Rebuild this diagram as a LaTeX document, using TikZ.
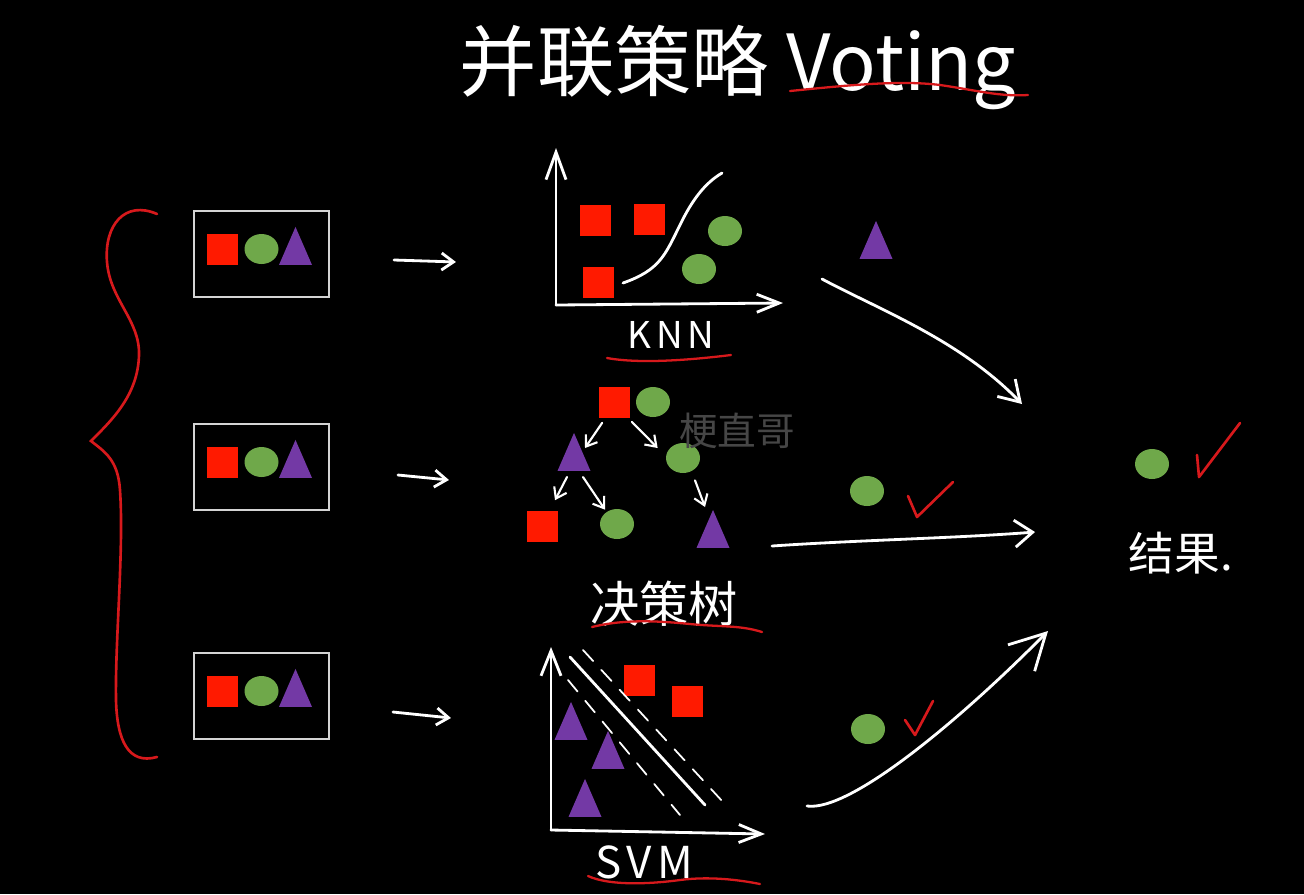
\documentclass[tikz,border=0pt]{standalone}
\usepackage{xcolor}
\usepackage{fontspec}
\usetikzlibrary{shapes.geometric,arrows.meta,calc}
\newfontfamily\cjk{Noto Sans CJK SC}
\newfontfamily\handfont[LetterSpace=12]{Noto Sans CJK SC}
\definecolor{sqred}{HTML}{FF1A00}
\definecolor{dotgreen}{HTML}{6FA84A}
\definecolor{tripurple}{HTML}{7339A5}
\definecolor{inkred}{HTML}{D7191C}
\definecolor{boxgray}{HTML}{D4D4D4}

\tikzset{
  sq/.style={fill=sqred, minimum size=6.2mm, inner sep=0pt},
  dot/.style={ellipse, fill=dotgreen, minimum width=6.8mm, minimum height=6mm, inner sep=0pt},
  tri/.style={isosceles triangle, isosceles triangle stretches, shape border rotate=90,
    fill=tripurple, minimum width=6.6mm, minimum height=7.6mm, inner sep=0pt, anchor=apex},
  samplebox/.style={draw=boxgray, line width=1.1pt, minimum width=27mm, minimum height=17.2mm, inner sep=0pt},
  chalk/.style={white, line width=1.6pt, line cap=round, line join=round},
  axis/.style={chalk, -{Straight Barb[length=4.5mm, width=3.6mm]}},
  rowarrow/.style={chalk, -{Straight Barb[length=2.4mm, width=3.4mm]}},
  treearrow/.style={chalk, line width=1.2pt, -{Straight Barb[length=2mm, width=2.8mm]}},
  inkline/.style={draw=inkred, line width=1.3pt, line cap=round},
  check/.style={inkline, line width=1.5pt, line join=round},
  handtxt/.style={text=white, inner sep=0pt}
}

\begin{document}
\begin{tikzpicture}[x=0.2mm, y=-0.2mm]
\fill[black] (0,0) rectangle (1304,894);
\useasboundingbox (0,0) rectangle (1304,894);

% title
\node[handtxt, anchor=base, font=\cjk\fontsize{44}{50}\selectfont] (title) at (738,90) {并联策略 Voting};
\draw[inkline] (790,91) .. controls (850,85) and (900,80) .. (940,85) .. controls (975,90) and (1000,97) .. (1028,95);

% three sampled sets
\draw[inkline, line width=1.5pt] (157,214) .. controls (125,200) and (104,225) .. (107,262)
  .. controls (110,300) and (140,320) .. (139,355) .. controls (138,395) and (112,420) .. (91,441)
  .. controls (105,452) and (118,460) .. (120,490) .. controls (124,550) and (115,640) .. (116,700)
  .. controls (117,740) and (128,765) .. (157,757);
\foreach \i/\y in {1/254,2/467,3/696} {
  \node[samplebox] (box\i) at (261.5,\y) {};
  \node[sq] (bsq\i) at (222.5,\y-5) {};
  \node[dot] (bdot\i) at (261.5,\y-5) {};
  \node[tri] (btri\i) at (295.5,\y-28) {};
}
\draw[rowarrow] ($(box1.east)+(64,6)$) -- ($(box1.east)+(126,8)$);
\draw[rowarrow] ($(box2.east)+(68,8)$) -- ($(box2.east)+(119,13)$);
\draw[rowarrow] ($(box3.east)+(63,16)$) -- ($(box3.east)+(121,22)$);

% KNN
\coordinate (knn o) at (556,305);
\draw[axis, -{Straight Barb[length=5.5mm, width=4mm]}] (knn o) -- ++(0,-157);
\draw[axis] (knn o) -- ++(227,-2);
\node[sq] (knnsq1) at (595,220) {};
\node[sq] (knnsq2) at (649,219) {};
\node[sq] (knnsq3) at (598,282) {};
\node[dot] (knndot1) at (725,231) {};
\node[dot] (knndot2) at (699,269) {};
\draw[chalk] (623,283) .. controls (660,270) and (665,255) .. (680,225) .. controls (692,200) and (705,183) .. (722,173);
\node[handtxt, font=\handfont\fontsize{21}{24}\selectfont] (knn) at (671,335) {KNN};
\draw[inkline] (607,358) .. controls (640,364) and (690,360) .. (731,355);

% decision tree
\node[sq] (root) at (614,402) {};
\node[dot] (rootdot) at (653,402) {};
\node[tri] (t1) at (574,432) {};
\node[dot] (t2) at (683,458) {};
\node[sq] (leaf1) at (542,526) {};
\node[dot] (leaf2) at (617,524) {};
\node[tri] (leaf3) at (713,509) {};
\draw[treearrow] ($(root.south west)+(4,5)$) -- ($(t1.apex)+(11,16)$);
\draw[treearrow] ($(root.south east)+(2,4)$) -- ($(t2.west)+(-8,-10)$);
\draw[treearrow] ($(t1.apex)+(-7,45)$) -- ($(leaf1.north)+(13,-10)$);
\draw[treearrow] ($(t1.apex)+(9,45)$) -- ($(leaf2.north)+(-12,1)$);
\draw[treearrow] ($(t2.south)+(12,7)$) -- ($(leaf3.apex)+(-8,-2)$);
\node[text=gray!55!black, inner sep=0pt, font=\cjk\fontsize{22}{26}\selectfont] (mark) at (737,431) {梗直哥};
\node[handtxt, font=\cjk\fontsize{28}{32}\selectfont] (tree) at (664,604) {决策树};
\draw[inkline] (592,627) .. controls (620,620) and (650,620) .. (690,624) .. controls (720,627) and (740,625) .. (762,632);

% SVM
\coordinate (svm o) at (551,830);
\draw[axis, -{Straight Barb[length=5mm, width=4mm]}] (svm o) -- (551,647);
\draw[axis] (svm o) -- (765,834);
\node[sq] (svmsq1) at (639,680) {};
\node[sq] (svmsq2) at (687,701) {};
\node[tri] (svmtri1) at (571,701) {};
\node[tri] (svmtri2) at (608,730) {};
\node[tri] (svmtri3) at (585,778) {};
\draw[chalk] (570,657) -- (705,805);
\draw[chalk, line width=1pt, dash pattern=on 3mm off 2.4mm] (583,650) -- (723,802);
\draw[chalk, line width=1pt, dash pattern=on 3mm off 2.4mm] (568,680) -- (680,815);
\node[handtxt, font=\handfont\fontsize{25}{28}\selectfont] (svm) at (644,862) {SVM};
\draw[inkline] (588,876) .. controls (610,886) and (650,884) .. (680,880) .. controls (710,876) and (740,880) .. (760,884);

% votes
\node[tri] (vote1) at (876,220) {};
\node[dot] (vote2) at (867,491) {};
\node[dot] (vote3) at (868,729) {};
\draw[check] (908,496) -- (917,517) -- (953,482);
\draw[check] (905,720) -- (915,735) -- (933,701);
\coordinate (from1) at (822,279);
\coordinate (from2) at (772,546);
\coordinate (from3) at (807,806);
\coordinate (to1) at (1022,404);
\coordinate (to2) at (1035,532);
\coordinate (to3) at (1048,631);
\draw[chalk, -{Straight Barb[length=4mm, width=5mm]}] (from1) .. controls (880,310) and (960,340) .. (to1);
\draw[chalk, -{Straight Barb[length=3.6mm, width=5.4mm]}] (from2) .. controls (860,540) and (960,538) .. (to2);
\draw[chalk, -{Straight Barb[length=7mm, width=7.5mm]}] (from3) .. controls (850,812) and (960,720) .. (to3);

% result
\node[dot] (final) at (1152,464) {};
\draw[check] (1197,455) -- (1199,477) -- (1240,423);
\node[handtxt, font=\cjk\fontsize{26}{30}\selectfont] (result) at (1181,553) {结果.};
\end{tikzpicture}
\end{document}
